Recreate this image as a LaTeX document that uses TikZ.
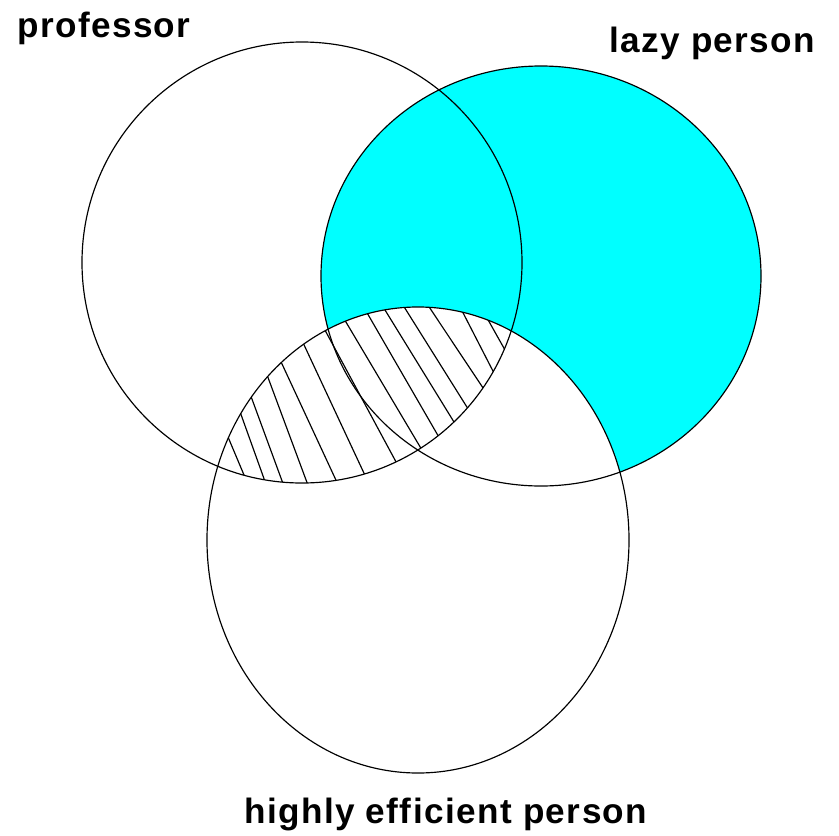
\documentclass[tikz,border=0pt]{standalone}
\usepackage{fontspec}
\setmainfont{Liberation Sans}
\usetikzlibrary{calc}
\definecolor{lazycyan}{RGB}{0,255,255}
\begin{document}
\begin{tikzpicture}[x=0.03cm,y=-0.03cm,
  outline/.style={draw=black,line width=1pt},
  hatchline/.style={draw=black,line width=1pt},
  lbl/.style={inner sep=0pt,anchor=base west,
    font=\fontsize{30}{33}\selectfont\bfseries\addfontfeature{LetterSpace=4}}]
\useasboundingbox (0,0) rectangle (839,835);
% centres
\coordinate (P) at (302,262.5);
\coordinate (L) at (541,276);
\coordinate (E) at (418,540);
% cyan: lazy minus efficient
\fill[lazycyan] (L) ellipse [x radius=6.6cm, y radius=6.3cm];
\fill[white] (E) ellipse [x radius=6.33cm, y radius=6.99cm];
% hatch: professor intersect efficient
\begin{scope}
  \clip (P) ellipse [x radius=6.6cm, y radius=6.615cm];
  \clip (E) ellipse [x radius=6.33cm, y radius=6.99cm];
  \foreach \ax/\ay/\bx/\by in {
    230/441.7/243.3/473.3,
    240/411.7/263.3/476.7,
    251.7/398.3/281.7/480,
    268.3/378.3/306.7/481.7,
    281.7/363.3/336.7/481.7,
    303.3/343.3/363.3/471.7,
    326.7/333.3/395/460,
    346.7/323.3/420/446.7,
    368.3/315/436.7/433.3,
    385/310/451.7/418.3,
    405/308.3/466.7/406.7,
    430/308.3/483.3/388.3,
    463.3/313.3/493.3/371.7,
    490/323.3/505/350}{
    \draw[hatchline] ($(\ax,\ay)!-0.4!(\bx,\by)$) -- ($(\ax,\ay)!1.4!(\bx,\by)$);
  }
\end{scope}
% outlines
\draw[outline] (P) ellipse [x radius=6.6cm, y radius=6.615cm];
\draw[outline] (L) ellipse [x radius=6.6cm, y radius=6.3cm];
\draw[outline] (E) ellipse [x radius=6.33cm, y radius=6.99cm];
% labels
\node[lbl] (tprof) at (17,37) {professor};
\node[lbl] (tlazy) at (609,52) {lazy person};
\node[lbl] (teff) at (244,823) {highly efficient person};
\end{tikzpicture}
\end{document}
